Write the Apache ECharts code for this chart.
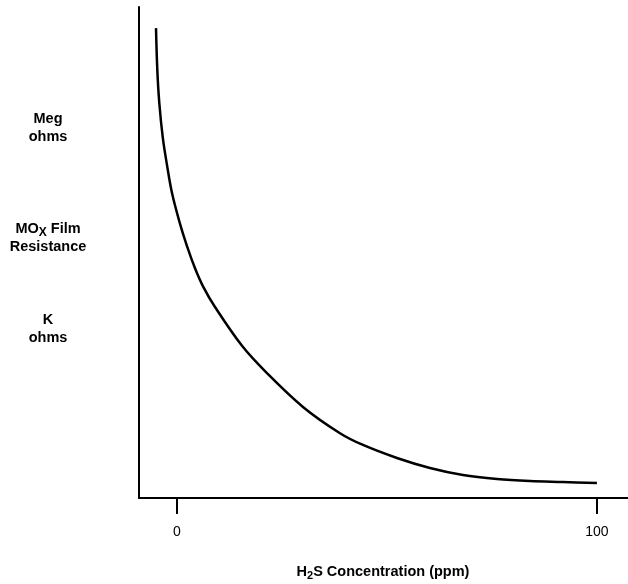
<!DOCTYPE html>
<html>
<head>
<meta charset="utf-8">
<script src="https://cdn.jsdelivr.net/npm/echarts@6/dist/echarts.min.js"></script>
<style>html,body{margin:0;padding:0;background:#fff}#c{width:628px;height:584px}</style>
</head>
<body>
<div id="c"></div>
<script>
// H2S concentration (ppm) and relative film resistance (arbitrary, unlabeled scale)
var concentration = [-5.0, -4.69, -4.21, -3.4, -2.38, -1.19, 0.6, 2.38, 4.29, 6.26, 9.05, 15.48, 21.36, 30.07, 38.81, 44.29, 52.38, 60.24, 68.1, 76.19, 84.05, 91.9, 100];
var resistance = [95.7, 87.2, 80.4, 73.5, 67.8, 62.1, 56.2, 51.3, 46.8, 43.0, 38.9, 31.0, 25.5, 18.5, 13.2, 10.8, 8.15, 6.11, 4.68, 3.87, 3.46, 3.26, 3.05];
var xTickValues = [0, 100];
var yLabelLines = [["Meg", "ohms"], ["MOX Film", "Resistance"], ["K", "ohms"]];

var chart = echarts.init(document.getElementById('c'), null, {renderer: 'canvas'});
var font = '"Liberation Sans", Arial, sans-serif';
var pts = concentration.map(function (x, i) { return [x, resistance[i]]; });
var fs = 14.5;

chart.setOption({
  animation: false,
  backgroundColor: '#fff',
  grid: {left: 139, right: 0, top: 7, bottom: 86, containLabel: false},
  xAxis: {
    type: 'value', min: -9.05, max: 107.4,
    axisLine: {show: true, onZero: false, lineStyle: {color: '#000', width: 2}},
    axisTick: {show: true, customValues: xTickValues, length: 16, lineStyle: {color: '#000', width: 2}},
    axisLabel: {show: true, customValues: xTickValues, margin: 27, color: '#000', fontSize: 14, fontFamily: font},
    splitLine: {show: false}
  },
  yAxis: {
    type: 'value', min: 0, max: 100,
    axisLine: {show: true, onZero: false, lineStyle: {color: '#000', width: 2}},
    axisTick: {show: false}, axisLabel: {show: false}, splitLine: {show: false}
  },
  series: [{
    type: 'line', data: pts, smooth: 0.35, showSymbol: false,
    lineStyle: {color: '#000', width: 2.5}
  }],
  graphic: [
    {type: 'text', x: 48, y: 128, style: {text: yLabelLines[0].join('\n'), align: 'center', verticalAlign: 'middle', font: 'bold ' + fs + 'px ' + font, lineHeight: 18, fill: '#000'}},
    {type: 'text', x: 48, y: 238, style: {
      text: '{n|MO}{s|X}{n| Film}\n{n|Resistance}', align: 'center', verticalAlign: 'middle',
      rich: {n: {fontSize: fs, fontWeight: 'bold', fontFamily: font, lineHeight: 18, fill: '#000'},
             s: {fontSize: 12, fontWeight: 'bold', fontFamily: font, lineHeight: 18, padding: [8, 0, 0, 0], fill: '#000'}},
      fill: '#000'}},
    {type: 'text', x: 48, y: 329, style: {text: yLabelLines[2].join('\n'), align: 'center', verticalAlign: 'middle', font: 'bold ' + fs + 'px ' + font, lineHeight: 18, fill: '#000'}},
    {type: 'text', x: 383, y: 572, style: {
      text: '{n|H}{s|2}{n|S Concentration (ppm)}', align: 'center', verticalAlign: 'middle',
      rich: {n: {fontSize: fs, fontWeight: 'bold', fontFamily: font, lineHeight: 18, fill: '#000'},
             s: {fontSize: 11, fontWeight: 'bold', fontFamily: font, lineHeight: 18, padding: [8, 0, 0, 0], fill: '#000'}},
      fill: '#000'}}
  ]
});
</script>
</body>
</html>
